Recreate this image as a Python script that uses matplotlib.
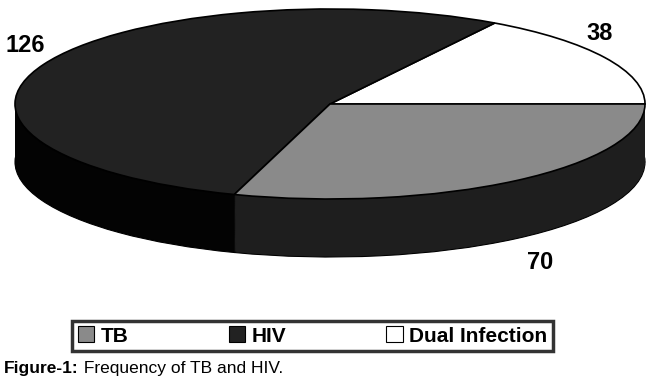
import matplotlib
matplotlib.use("Agg")
import matplotlib.pyplot as plt
from matplotlib.patches import Patch
import numpy as np

categories = ["Dual Infection", "HIV", "TB"]
values = [38, 126, 70]
top_colors = ["#ffffff", "#222222", "#8a8a8a"]
side_colors = ["#0a0a0a", "#030303", "#1e1e1e"]
legend_order = ["TB", "HIV", "Dual Infection"]
label_text = {"HIV": "126", "Dual Infection": "38", "TB": "70"}

W, H = 650, 384
fig = plt.figure(figsize=(W / 100, H / 100), dpi=100)
ax = fig.add_axes([0, 0, 1, 1])

# pixel geometry of the ellipse
cx, cy, rx, ry, depth_px = 330, 104, 315, 95, 58
depth = depth_px / ry

nlayers = 60
for i in range(nlayers, 0, -1):
    off = -depth * i / nlayers
    ax.pie(values, colors=side_colors, startangle=0, counterclock=True,
           center=(0, off), radius=1,
           wedgeprops=dict(linewidth=0.8 if i == nlayers else 0, edgecolor="black"))
ax.pie(values, colors=top_colors, startangle=0, counterclock=True,
       center=(0, 0), radius=1,
       wedgeprops=dict(linewidth=1.2, edgecolor="black"))

ax.set_aspect("auto")
ax.set_xlim((0 - cx) / rx, (W - cx) / rx)
ax.set_ylim((cy - H) / ry, (cy - 0) / ry)
ax.axis("off")

lab_pos = {"HIV": (25, 45), "Dual Infection": (600, 33), "TB": (540, 262)}
for c in categories:
    px, py = lab_pos[c]
    ax.text((px - cx) / rx, (cy - py) / ry, label_text[c], ha="center", va="center",
            fontsize=17, fontweight="bold", family=["Liberation Sans", "DejaVu Sans"])

cmap = dict(zip(categories, top_colors))
handles = [Patch(facecolor=cmap[c], edgecolor="black", linewidth=0.8) for c in legend_order]
leg = fig.legend(handles, legend_order, loc="center", ncol=3, mode="expand",
                 bbox_to_anchor=(62 / W, 1 - 350 / H, (563 - 62) / W, 28 / H),
                 frameon=True, fancybox=False, edgecolor="black", borderpad=0.25,
                 handlelength=0.8, handleheight=0.8, handletextpad=0.3,
                 prop=dict(family=["Liberation Sans", "DejaVu Sans"],
                           weight="bold", size=15))
leg.get_frame().set_linewidth(2.5)

t1 = fig.text(4 / W, 1 - 368 / H, "Figure-1:", fontsize=12.5, fontweight="bold",
              family=["Liberation Sans", "DejaVu Sans"], va="center", ha="left")
ax.annotate(" Frequency of TB and HIV.", xy=(1, 0.5), xycoords=t1,
            va="center", ha="left", fontsize=12.5,
            family=["Liberation Sans", "DejaVu Sans"], annotation_clip=False)

fig.savefig("out.png", dpi=100)
